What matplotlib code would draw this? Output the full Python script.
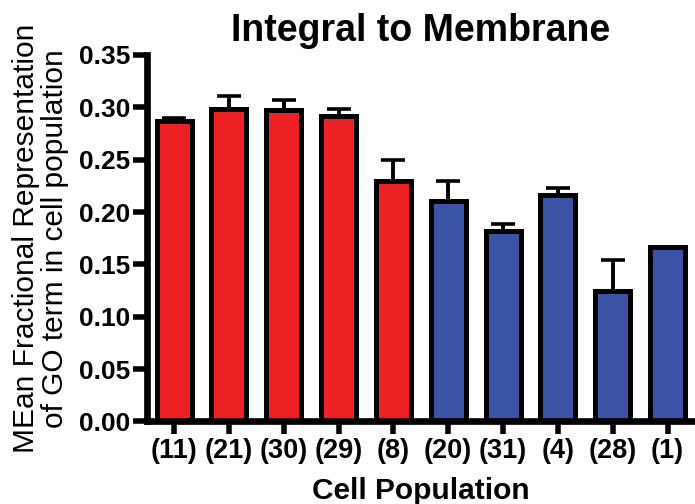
import numpy as np
import matplotlib
matplotlib.use("Agg")
import matplotlib.pyplot as plt

plt.rcParams["font.family"] = ["Liberation Sans", "DejaVu Sans"]

# --- data ---
populations = ["(11)", "(21)", "(30)", "(29)", "(8)", "(20)", "(31)", "(4)", "(28)", "(1)"]
mean_rep = [0.287, 0.298, 0.297, 0.292, 0.230, 0.211, 0.182, 0.216, 0.125, 0.167]
sem_rep = [0.003, 0.013, 0.010, 0.006, 0.020, 0.019, 0.007, 0.007, 0.029, 0.0]
group = ["red", "red", "red", "red", "red", "blue", "blue", "blue", "blue", "blue"]

palette = {"red": "#ED2024", "blue": "#3A53A4"}
colors = [palette[g] for g in group]
x = np.arange(len(populations))

fig = plt.figure(figsize=(6.95, 5.04), dpi=100)
ax = fig.add_axes([0.211, 0.1637, 0.789, 0.7273])

ax.bar(x, mean_rep, width=0.64, color=colors, edgecolor="black",
       linewidth=3.6, zorder=2)
# upper error bars only
ax.errorbar(x, mean_rep, yerr=[np.zeros(len(sem_rep)), sem_rep], fmt="none",
            ecolor="black", elinewidth=2.8, capsize=8.3, capthick=2.6, zorder=1)

ax.set_xlim(-0.5, 9.5)
ax.set_ylim(0, 0.35)
ax.set_yticks(np.arange(0, 0.351, 0.05))
ax.set_yticklabels([f"{v:.2f}" for v in np.arange(0, 0.351, 0.05)])
ax.set_xticks(x)
ax.set_xticklabels(populations)

for side in ["top", "right"]:
    ax.spines[side].set_visible(False)
for side in ["left", "bottom"]:
    ax.spines[side].set_linewidth(4.8)

ax.tick_params(axis="y", length=10, width=4, pad=2, labelsize=19)
ax.tick_params(axis="x", length=9, width=4, pad=3, labelsize=19.5)
for lbl in ax.get_xticklabels() + ax.get_yticklabels():
    lbl.set_fontweight("bold")

ax.set_title("Integral to Membrane", fontsize=27, fontweight="bold", pad=10)
ax.set_xlabel("Cell Population", fontsize=21.5, fontweight="bold", labelpad=9)
ax.set_ylabel("MEan Fractional Representation\nof GO term in cell population",
              fontsize=21.5, linespacing=1.05, labelpad=7)

fig.savefig("out.png", dpi=100)
